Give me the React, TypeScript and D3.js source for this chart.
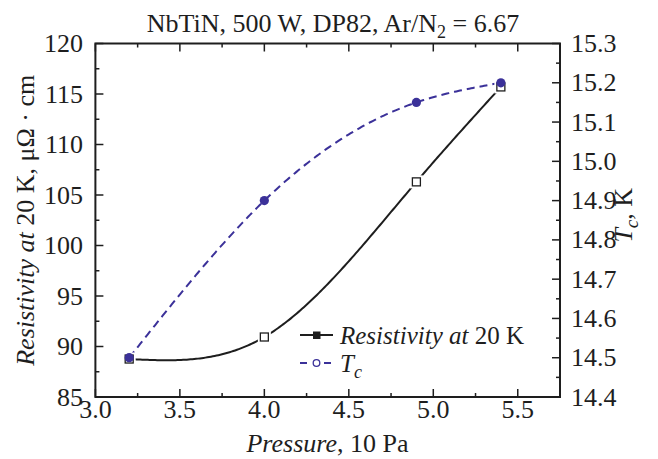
import React from "react";
import * as d3 from "d3";

const pressure = [3.2, 4.0, 4.9, 5.4];
const resistivity = [88.76, 90.94, 106.3, 115.7];
const tc = [14.5, 14.9, 15.15, 15.2];

const xMajor = [3.0, 3.5, 4.0, 4.5, 5.0, 5.5];
const xMinor = [3.25, 3.75, 4.25, 4.75, 5.25, 5.75];
const yLMajor = [85, 90, 95, 100, 105, 110, 115, 120];
const yLMinor = [87.5, 92.5, 97.5, 102.5, 107.5, 112.5, 117.5];
const yRMajor = [14.4, 14.5, 14.6, 14.7, 14.8, 14.9, 15.0, 15.1, 15.2, 15.3];
const yRMinor = [14.45, 14.55, 14.65, 14.75, 14.85, 14.95, 15.05, 15.15, 15.25];

const W = 658, H = 459;
const L = 95.4, R = 560, T = 43.5, B = 397;
const FONT = "'Liberation Serif', 'Times New Roman', serif";
const BLUE = "#3b3199";
const INK = "#1e1e1e";

// natural cubic spline through (xs, ys) in data space
function naturalSpline(xs: number[], ys: number[]) {
  const n = xs.length;
  const h = d3.range(n - 1).map((i) => xs[i + 1] - xs[i]);
  const M = new Array(n).fill(0);
  const a: number[] = [], b: number[] = [], c: number[] = [], r: number[] = [];
  for (let i = 1; i < n - 1; i++) {
    a.push(h[i - 1]);
    b.push(2 * (h[i - 1] + h[i]));
    c.push(h[i]);
    r.push(6 * ((ys[i + 1] - ys[i]) / h[i] - (ys[i] - ys[i - 1]) / h[i - 1]));
  }
  const m = b.length;
  for (let i = 1; i < m; i++) {
    const w = a[i] / b[i - 1];
    b[i] -= w * c[i - 1];
    r[i] -= w * r[i - 1];
  }
  const sol = new Array(m).fill(0);
  for (let i = m - 1; i >= 0; i--) sol[i] = (r[i] - (i < m - 1 ? c[i] * sol[i + 1] : 0)) / b[i];
  for (let i = 0; i < m; i++) M[i + 1] = sol[i];
  return (x: number) => {
    let i = 0;
    while (i < n - 2 && x > xs[i + 1]) i++;
    const hi = h[i];
    const t1 = xs[i + 1] - x, t0 = x - xs[i];
    return (
      (M[i] * t1 ** 3) / (6 * hi) +
      (M[i + 1] * t0 ** 3) / (6 * hi) +
      (ys[i] / hi - (M[i] * hi) / 6) * t1 +
      (ys[i + 1] / hi - (M[i + 1] * hi) / 6) * t0
    );
  };
}

export default function App() {
  const x = d3.scaleLinear().domain([3.0, 5.75]).range([L, R]);
  const yL = d3.scaleLinear().domain([85, 120]).range([B, T]);
  const yR = d3.scaleLinear().domain([14.4, 15.3]).range([B, T]);

  const xs = d3.range(0, 201).map((k) => pressure[0] + ((pressure[pressure.length - 1] - pressure[0]) * k) / 200);
  const fRes = naturalSpline(pressure, resistivity);
  const fTc = naturalSpline(pressure, tc);
  const resLine = d3.line<number>().x((d) => x(d)).y((d) => yL(fRes(d)));
  const tcLine = d3.line<number>().x((d) => x(d)).y((d) => yR(fTc(d)));

  const maj = 8, mnr = 4;
  const fs = 26;
  const lfs = 25;

  return (
    <svg width={W} height={H} style={{ position: "absolute", left: 0, top: 0, background: "#fff" }} fontFamily={FONT}>
      <rect width={W} height={H} fill="#fff" />
      {/* title */}
      <text x={333} y={32} fontSize={fs} textAnchor="middle" fill={INK}>
        NbTiN, 500 W, DP82, Ar/N<tspan dy={6} fontSize={18}>2</tspan><tspan dy={-6}> = 6.67</tspan>
      </text>

      {/* curves */}
      <path d={resLine(xs) || ""} fill="none" stroke={INK} strokeWidth={2} />
      <path d={tcLine(xs) || ""} fill="none" stroke={BLUE} strokeWidth={2} strokeDasharray="8,5" />

      {/* resistivity markers (open squares) */}
      {resistivity.map((v, i) => (
        <g key={"r" + i}>
          <rect x={x(pressure[i]) - 6.5} y={yL(v) - 6.5} width={13} height={13} fill="#fff" />
          <rect x={x(pressure[i]) - 4} y={yL(v) - 4} width={8} height={8} fill="#fff" stroke={INK} strokeWidth={1.3} />
        </g>
      ))}
      {/* Tc markers (filled circles) */}
      {tc.map((v, i) => (
        <circle key={"t" + i} cx={x(pressure[i])} cy={yR(v)} r={4.6} fill={BLUE} />
      ))}

      {/* frame */}
      <rect x={L} y={T} width={R - L} height={B - T} fill="none" stroke={INK} strokeWidth={2} />

      {/* x ticks bottom/top */}
      {xMajor.map((v) => (
        <g key={"xm" + v}>
          <line x1={x(v)} x2={x(v)} y1={B} y2={B - maj} stroke={INK} strokeWidth={1.5} />
          <line x1={x(v)} x2={x(v)} y1={T} y2={T + maj} stroke={INK} strokeWidth={1.5} />
          <text x={x(v)} y={418} fontSize={fs} textAnchor="middle" fill={INK}>{v.toFixed(1)}</text>
        </g>
      ))}
      {xMinor.map((v) => (
        <g key={"xn" + v}>
          <line x1={x(v)} x2={x(v)} y1={B} y2={B - mnr} stroke={INK} strokeWidth={1.5} />
          <line x1={x(v)} x2={x(v)} y1={T} y2={T + mnr} stroke={INK} strokeWidth={1.5} />
        </g>
      ))}

      {/* left ticks */}
      {yLMajor.map((v) => (
        <g key={"lm" + v}>
          <line x1={L} x2={L + maj} y1={yL(v)} y2={yL(v)} stroke={INK} strokeWidth={1.5} />
          <text x={83} y={yL(v) + 8.5} fontSize={fs} textAnchor="end" fill={INK}>{v}</text>
        </g>
      ))}
      {yLMinor.map((v) => (
        <line key={"ln" + v} x1={L} x2={L + mnr} y1={yL(v)} y2={yL(v)} stroke={INK} strokeWidth={1.5} />
      ))}

      {/* right ticks */}
      {yRMajor.map((v) => (
        <g key={"rm" + v}>
          <line x1={R} x2={R - maj} y1={yR(v)} y2={yR(v)} stroke={INK} strokeWidth={1.5} />
          <text x={571} y={yR(v) + 8.5} fontSize={fs} textAnchor="start" fill={INK}>{v.toFixed(1)}</text>
        </g>
      ))}
      {yRMinor.map((v) => (
        <line key={"rn" + v} x1={R} x2={R - mnr} y1={yR(v)} y2={yR(v)} stroke={INK} strokeWidth={1.5} />
      ))}

      {/* axis titles */}
      <text x={327.5} y={452} fontSize={fs} textAnchor="middle" fill={INK}>
        <tspan fontStyle="italic">Pressure</tspan>, 10 Pa
      </text>
      <text transform={`translate(34,${(T + B) / 2}) rotate(-90)`} fontSize={fs} textAnchor="middle" fill={INK}>
        <tspan fontStyle="italic">Resistivity at</tspan> 20 K, μΩ · cm
      </text>
      <text transform={`translate(632,${(T + B) / 2 - 5}) rotate(-90)`} fontSize={fs} textAnchor="middle" fill={INK}>
        <tspan fontStyle="italic">T</tspan><tspan fontStyle="italic" fontSize={19} dy={6}>c</tspan><tspan dy={-6}>, K</tspan>
      </text>

      {/* legend */}
      <g>
        <line x1={300} x2={333} y1={335} y2={335} stroke={INK} strokeWidth={2} />
        <rect x={313} y={331.5} width={7.5} height={7.5} fill={INK} />
        <text x={340} y={343.5} fontSize={lfs} fill={INK}>
          <tspan fontStyle="italic">Resistivity at</tspan> 20 K
        </text>
        <line x1={300} x2={333} y1={363} y2={363} stroke={BLUE} strokeWidth={2} strokeDasharray="7,5" />
        <circle cx={316.5} cy={363} r={5.5} fill="#fff" />
        <circle cx={316.5} cy={363} r={3.3} fill="#fff" stroke={BLUE} strokeWidth={1.3} />
        <text x={340} y={372} fontSize={lfs} fill={INK}>
          <tspan fontStyle="italic">T</tspan><tspan fontStyle="italic" fontSize={18} dy={6}>c</tspan>
        </text>
      </g>
    </svg>
  );
}
